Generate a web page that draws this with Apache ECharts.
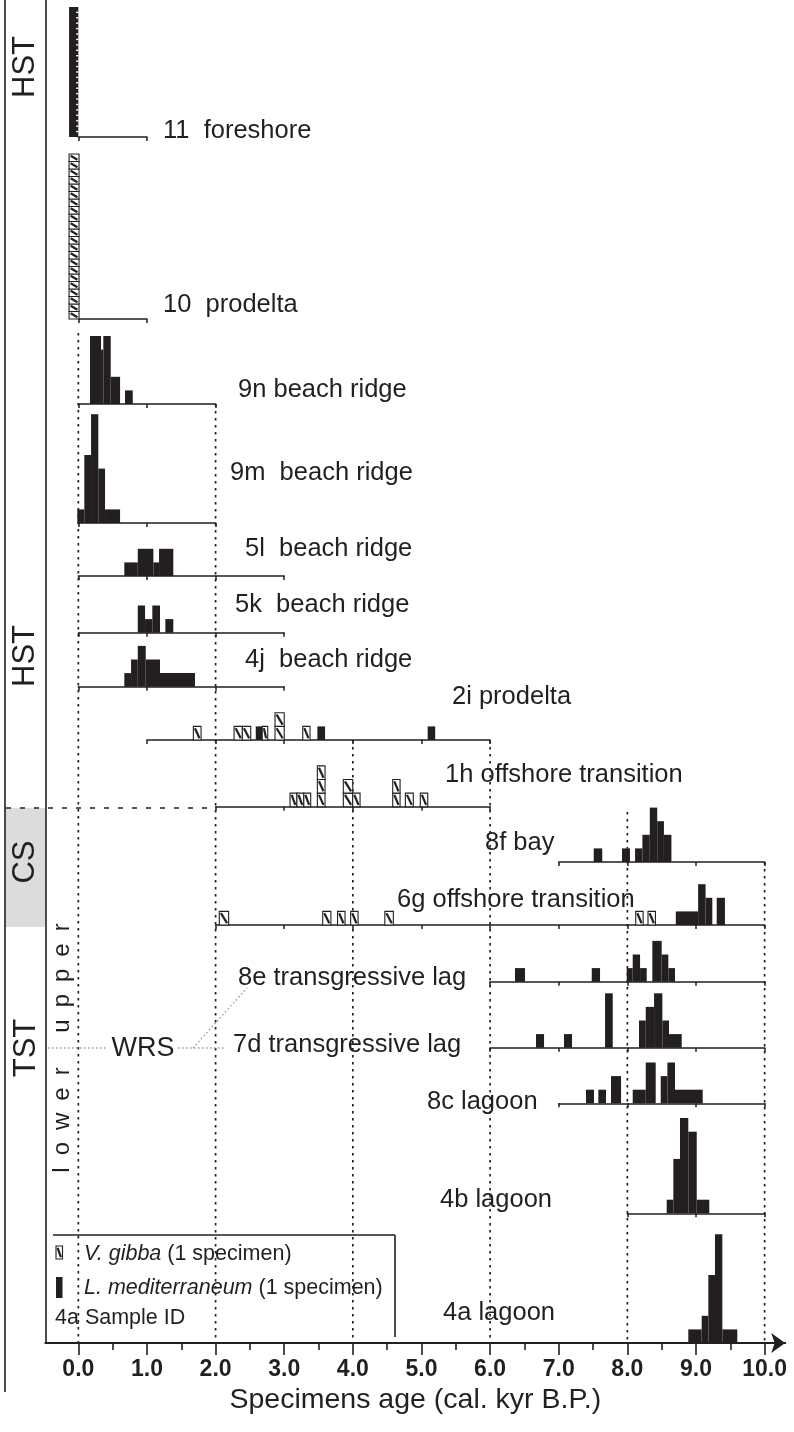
<!DOCTYPE html>
<html>
<head>
<meta charset="utf-8">
<script src="https://cdn.jsdelivr.net/npm/echarts@6/dist/echarts.min.js"></script>
<style>
  html, body { margin: 0; padding: 0; background: #fff; }
  #chart { width: 794px; height: 1432px; }
</style>
</head>
<body>
<div id="chart"></div>
<script>
// ---- Age axis (cal. kyr B.P.) ----
const ageLabels = [0, 1, 2, 3, 4, 5, 6, 7, 8, 9, 10];
const ageMinorTicks = [0.5, 1.5, 2.5, 3.5, 4.5, 5.5, 6.5, 7.5, 8.5, 9.5];
const guideAges = [0, 2, 4, 6, 8, 10];

// ---- Samples (top to bottom) ----
const sampleIds = ['11', '10', '9n', '9m', '5l', '5k', '4j', '2i', '1h', '8f', '6g', '8e', '7d', '8c', '4b', '4a'];
const sampleLabels = ['11  foreshore', '10  prodelta', '9n beach ridge', '9m  beach ridge', '5l  beach ridge',
  '5k  beach ridge', '4j  beach ridge', '2i prodelta', '1h offshore transition', '8f bay',
  '6g offshore transition', '8e transgressive lag', '7d transgressive lag', '8c lagoon', '4b lagoon', '4a lagoon'];
const sampleAxisRange = [[0, 1], [0, 1], [0, 2], [0, 2], [0, 3], [0, 3], [0, 3], [1, 6], [2, 6], [7, 10],
  [2, 10], [6, 10], [6, 10], [7, 10], [8, 10], null];

// Specimen counts per age interval: [age from, age to, specimens]
// L. mediterraneum
const med11 = [[-0.135, 0.0, 24]];
const med9n = [[0.170, 0.331, 5], [0.331, 0.364, 4], [0.364, 0.472, 5], [0.472, 0.608, 2], [0.680, 0.793, 1]];
const med9m = [[-0.015, 0.087, 1], [0.087, 0.185, 5], [0.185, 0.291, 8], [0.291, 0.389, 4], [0.389, 0.608, 1]];
const med5l = [[0.670, 0.866, 1], [0.866, 1.093, 2], [1.093, 1.176, 1], [1.176, 1.384, 2]];
const med5k = [[0.866, 0.972, 2], [0.972, 1.078, 1], [1.078, 1.190, 2], [1.268, 1.384, 1]];
const med4j = [[0.670, 0.768, 1], [0.768, 0.866, 2], [0.866, 0.982, 3], [0.982, 1.190, 2], [1.190, 1.700, 1]];
const med2i = [[2.585, 2.680, 1], [3.483, 3.595, 1], [5.090, 5.200, 1]];
const med8f = [[7.510, 7.634, 1], [7.922, 8.038, 1], [8.112, 8.219, 1], [8.219, 8.327, 2], [8.327, 8.435, 4],
  [8.435, 8.533, 3], [8.533, 8.642, 2]];
const med6g = [[8.706, 9.031, 1], [9.031, 9.140, 3], [9.140, 9.238, 2], [9.302, 9.422, 2]];
const med8e = [[6.363, 6.509, 1], [7.481, 7.602, 1], [7.991, 8.078, 1], [8.078, 8.185, 2], [8.185, 8.282, 1],
  [8.364, 8.500, 3], [8.500, 8.597, 2], [8.597, 8.694, 1]];
const med7d = [[6.669, 6.786, 1], [7.077, 7.194, 1], [7.675, 7.787, 4], [8.170, 8.268, 2], [8.268, 8.389, 3],
  [8.389, 8.510, 4], [8.510, 8.607, 2], [8.607, 8.792, 1]];
const med8c = [[7.397, 7.514, 1], [7.577, 7.689, 1], [7.762, 7.908, 2], [8.078, 8.268, 1], [8.268, 8.413, 3],
  [8.486, 8.583, 2], [8.583, 8.694, 3], [8.694, 9.098, 1]];
const med4b = [[8.573, 8.670, 1], [8.670, 8.767, 4], [8.767, 8.888, 7], [8.888, 9.011, 6], [9.011, 9.194, 1]];
const med4a = [[8.888, 9.083, 1], [9.083, 9.180, 2], [9.180, 9.277, 5], [9.277, 9.384, 8], [9.384, 9.602, 1]];
// V. gibba
const gib10 = [[-0.135, 0.010, 22]];
const gib2i = [[1.676, 1.788, 1], [2.269, 2.390, 1], [2.390, 2.512, 1], [2.680, 2.760, 1], [2.866, 3.000, 2],
  [3.270, 3.376, 1]];
const gib1h = [[3.085, 3.185, 1], [3.185, 3.285, 1], [3.285, 3.386, 1], [3.483, 3.595, 3], [3.861, 3.998, 2],
  [3.998, 4.105, 1], [4.581, 4.688, 2], [4.765, 4.881, 1], [4.983, 5.091, 1]];
const gib6g = [[2.054, 2.190, 1], [3.561, 3.680, 1], [3.777, 3.886, 1], [3.968, 4.076, 1], [4.466, 4.590, 1],
  [8.122, 8.230, 1], [8.301, 8.409, 1]];

const medBySample = [med11, [], med9n, med9m, med5l, med5k, med4j, med2i, [], med8f, med6g, med8e, med7d, med8c, med4b, med4a];
const gibBySample = [[], gib10, [], [], [], [], [], gib2i, gib1h, [], gib6g, [], [], [], [], []];

// ---- Layout ----
const INK = '#231f20';
const FONT = '"Liberation Sans", Arial, Helvetica, sans-serif';
const AGE_MIN = -0.48, AGE_MAX = 10.3;
const PLOT_LEFT = 45.4, PLOT_RIGHT = 785.2, AXIS_Y = 1343;
const SPECIMEN_PX = 13.6;
const panelBaseY = [137, 319, 404, 523, 576, 632.7, 686.7, 740, 806.7, 862, 925, 981.7, 1047.7, 1103.3, 1213.3, AXIS_Y];
const panelUnitPx = [5.42, 7.5, 13.6, 13.6, 13.6, 13.6, 13.6, 13.6, 13.6, 13.6, 13.6, 13.6, 13.6, 13.6, 13.6, 13.6];
const panelNotched = [true, false, false, false, false, false, false, false, false, false, false, false, false, false, false, false];
const labelXY = [[163, 131], [163, 305], [238, 390], [230, 473], [245, 549], [235, 605], [245, 660], [452, 697],
  [445, 775], [485, 843], [397, 900], [238, 978], [233, 1045], [427, 1102], [440, 1200], [443, 1313]];
const guideTopY = [333, 404, 740, 740, 812, 862];
const PANEL_H = 200;

// pixel position of an age, used only for placing each panel's own axis
const ageToPx = a => PLOT_LEFT + (a - AGE_MIN) * (PLOT_RIGHT - PLOT_LEFT) / (AGE_MAX - AGE_MIN);

function hatchedBox(x, y, w, h) {
  return [
    { type: 'rect', shape: { x: x, y: y, width: w, height: h },
      style: { fill: '#fff', stroke: INK, lineWidth: 1.1 } },
    { type: 'line', shape: { x1: x + 1.6, y1: y + 1.8, x2: x + w - 1.6, y2: y + h - 1.8 },
      style: { stroke: INK, lineWidth: 2.2 } }
  ];
}

function makeRenderer(notched) {
  return function (params, api) {
    const a0 = api.value(0), a1 = api.value(1), n = api.value(2), kind = api.value(3);
    const p0 = api.coord([a0, 0]);
    const p1 = api.coord([a1, n]);
    const u = p0[1] - api.coord([a0, 1])[1];
    const x = p0[0], w = p1[0] - p0[0];
    const children = [];
    if (kind === 0) {
      children.push({ type: 'rect', shape: { x: x, y: p1[1], width: w, height: p0[1] - p1[1] },
        style: { fill: INK } });
      if (notched) {
        for (let k = 1; k < n; k++) {
          const yy = p0[1] - k * u;
          children.push({ type: 'rect', shape: { x: x + w - 2.2, y: yy - 0.7, width: 2.2, height: 1.4 },
            style: { fill: '#fff' } });
        }
      }
    } else {
      for (let k = 0; k < n; k++) {
        hatchedBox(x, p0[1] - (k + 1) * u, w, u).forEach(c => children.push(c));
      }
    }
    return { type: 'group', children: children };
  };
}

const grids = [], xAxes = [], yAxes = [], series = [];
const MAIN = sampleIds.length - 1;

sampleIds.forEach((id, i) => {
  const base = panelBaseY[i];
  if (i === MAIN) {
    grids.push({ left: PLOT_LEFT, width: PLOT_RIGHT - PLOT_LEFT, top: 0, height: AXIS_Y });
    xAxes.push({
      type: 'value', gridIndex: i, min: AGE_MIN, max: AGE_MAX, position: 'bottom',
      name: 'Specimens age (cal. kyr B.P.)', nameLocation: 'middle', nameGap: 43,
      nameTextStyle: { fontFamily: FONT, fontSize: 28.5, color: INK },
      axisLine: { show: true, lineStyle: { color: INK, width: 2 }, symbol: ['none', 'arrow'], symbolSize: [15, 14] },
      axisTick: { show: true, length: 12, inside: false, lineStyle: { color: INK, width: 1.6 }, customValues: ageLabels },
      axisLabel: { show: true, margin: 15, customValues: ageLabels, formatter: v => v.toFixed(1),
        fontFamily: '"Liberation Sans Narrow", "Liberation Sans", Arial, sans-serif', fontWeight: 'bold',
        fontSize: 23, color: INK },
      splitLine: { show: false }
    });
    yAxes.push({ type: 'value', gridIndex: i, min: 0, max: AXIS_Y / SPECIMEN_PX,
      axisLine: { show: true, onZero: false, lineStyle: { color: INK, width: 1.6 } },
      axisTick: { show: false }, axisLabel: { show: false }, splitLine: { show: false } });
  } else {
    const r = sampleAxisRange[i];
    const left = ageToPx(r[0]), right = ageToPx(r[1]);
    const h = Math.min(PANEL_H, base - 2);
    grids.push({ left: left, width: right - left, top: base - h, height: h });
    xAxes.push({
      type: 'value', gridIndex: i, min: r[0], max: r[1], interval: 1, position: 'bottom',
      axisLine: { show: true, onZero: false, lineStyle: { color: INK, width: 1.5 } },
      axisTick: { show: true, length: 4, lineStyle: { color: INK, width: 1.5 } },
      axisLabel: { show: false }, splitLine: { show: false }
    });
    yAxes.push({ type: 'value', gridIndex: i, min: 0, max: h / panelUnitPx[i], show: false,
      splitLine: { show: false } });
  }
  const data = medBySample[i].map(d => [d[0], d[1], d[2], 0])
    .concat(gibBySample[i].map(d => [d[0], d[1], d[2], 1]));
  series.push({
    type: 'custom', name: id, xAxisIndex: i, yAxisIndex: i, clip: false, silent: true, z: 5,
    encode: { x: [0, 1], y: 2 },
    renderItem: makeRenderer(panelNotched[i]), data: data
  });
});

// minor ticks of the age axis
xAxes.push({
  type: 'value', gridIndex: MAIN, min: AGE_MIN, max: AGE_MAX, position: 'bottom',
  axisLine: { show: false },
  axisTick: { show: true, length: 7, lineStyle: { color: INK, width: 1.6 }, customValues: ageMinorTicks },
  axisLabel: { show: false }, splitLine: { show: false }
});

// dotted age guides
series.push({
  type: 'custom', name: 'guides', xAxisIndex: MAIN, yAxisIndex: MAIN, clip: false, silent: true, z: 1,
  encode: { x: 0, y: 1 },
  data: guideAges.map((a, i) => [a, i]),
  renderItem: function (params, api) {
    const p = api.coord([api.value(0), 0]);
    const top = guideTopY[api.value(1)];
    return { type: 'line', shape: { x1: p[0], y1: top, x2: p[0], y2: p[1] - 1 },
      style: { stroke: INK, lineWidth: 1.7, lineDash: [2.4, 4.6] } };
  }
});

// ---- Text and stratigraphic annotations ----
const graphics = [];
graphics.push({ type: 'rect', shape: { x: 5, y: 808, width: 40, height: 119 }, style: { fill: '#dcdcdc' }, z: 0 });
graphics.push({ type: 'line', shape: { x1: 5, y1: 0, x2: 5, y2: 1392 }, style: { stroke: INK, lineWidth: 1.6 }, z: 3 });
graphics.push({ type: 'line', shape: { x1: 6, y1: 808, x2: 213, y2: 808 },
  style: { stroke: INK, lineWidth: 1.6, lineDash: [5, 9] }, z: 3 });

function rotText(text, x, y, size) {
  return { type: 'text', x: x, y: y, rotation: Math.PI / 2, z: 4,
    style: { text: text, fontFamily: FONT, fontSize: size, fill: INK, align: 'center', verticalAlign: 'middle' } };
}
graphics.push(rotText('HST', 25, 67, 31));
graphics.push(rotText('HST', 25, 656, 31));
graphics.push(rotText('CS', 25, 862, 31));
graphics.push(rotText('TST', 26, 1048, 31));
graphics.push(rotText('u\u2002p\u2002p\u2002e\u2002r', 62, 978, 24));
graphics.push(rotText('l\u2002o\u2002w\u2002e\u2002r', 62, 1120, 24));

// wave ravinement surface
const GREY = '#9a9a9a';
graphics.push({ type: 'line', shape: { x1: 48, y1: 1048, x2: 108, y2: 1048 },
  style: { stroke: GREY, lineWidth: 1.4, lineDash: [1.5, 2.5] }, z: 3 });
graphics.push({ type: 'line', shape: { x1: 178, y1: 1048, x2: 224, y2: 1048 },
  style: { stroke: GREY, lineWidth: 1.4, lineDash: [1.5, 2.5] }, z: 3 });
graphics.push({ type: 'line', shape: { x1: 193, y1: 1048, x2: 247, y2: 988 },
  style: { stroke: GREY, lineWidth: 1.4, lineDash: [1.5, 2.5] }, z: 3 });
graphics.push({ type: 'text', x: 143, y: 1049, z: 4,
  style: { text: 'WRS', fontFamily: FONT, fontSize: 27, fill: INK, align: 'center', verticalAlign: 'middle' } });

// sample labels
sampleLabels.forEach((t, i) => {
  graphics.push({ type: 'text', x: labelXY[i][0], y: labelXY[i][1], z: 6,
    style: { text: t, fontFamily: FONT, fontSize: 25.5, fill: INK, align: 'left', verticalAlign: 'middle' } });
});

// key
graphics.push({ type: 'line', shape: { x1: 53, y1: 1235, x2: 395, y2: 1235 }, style: { stroke: INK, lineWidth: 1.6 }, z: 3 });
graphics.push({ type: 'line', shape: { x1: 395, y1: 1235, x2: 395, y2: 1337 }, style: { stroke: INK, lineWidth: 1.6 }, z: 3 });
hatchedBox(56, 1246, 6.5, 13).forEach(c => { c.z = 4; graphics.push(c); });
graphics.push({ type: 'rect', shape: { x: 56, y: 1277, width: 6.5, height: 21 }, style: { fill: INK }, z: 4 });
const keyRich = { i: { fontStyle: 'italic', fontFamily: FONT, fontSize: 21.5, fill: INK } };
graphics.push({ type: 'text', x: 84, y: 1254, z: 4,
  style: { text: '{i|V. gibba} (1 specimen)', rich: keyRich, fontFamily: FONT, fontSize: 21.5, fill: INK, verticalAlign: 'middle' } });
graphics.push({ type: 'text', x: 84, y: 1288, z: 4,
  style: { text: '{i|L. mediterraneum} (1 specimen)', rich: keyRich, fontFamily: FONT, fontSize: 21.5, fill: INK, verticalAlign: 'middle' } });
graphics.push({ type: 'text', x: 55, y: 1318, z: 4,
  style: { text: '4a Sample ID', fontFamily: FONT, fontSize: 21.5, fill: INK, verticalAlign: 'middle' } });

const chart = echarts.init(document.getElementById('chart'), null, { renderer: 'canvas' });
chart.setOption({
  backgroundColor: '#fff',
  animation: false,
  grid: grids,
  xAxis: xAxes,
  yAxis: yAxes,
  series: series,
  graphic: { elements: graphics }
});
</script>
</body>
</html>
